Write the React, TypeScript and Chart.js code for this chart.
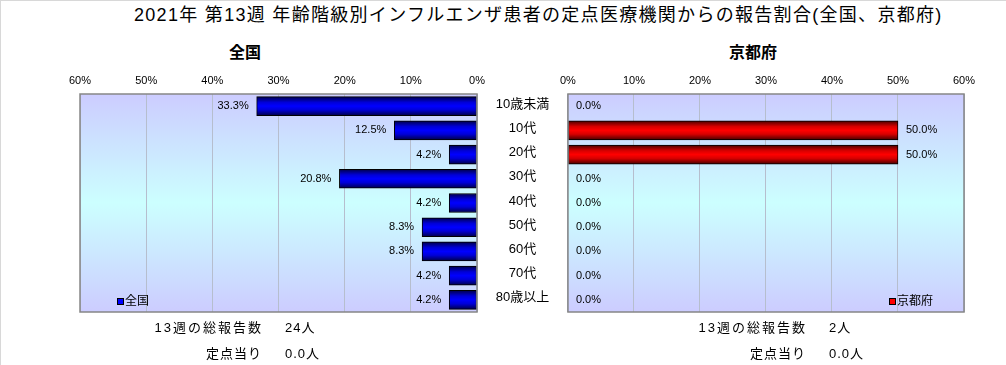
import React, { useEffect, useRef } from 'react';
import { Chart, registerables } from 'chart.js';

Chart.register(...registerables);

const categories = ['10歳未満', '10代', '20代', '30代', '40代', '50代', '60代', '70代', '80歳以上'];
const nationalValues = [33.3, 12.5, 4.2, 20.8, 4.2, 8.3, 8.3, 4.2, 4.2];
const kyotoValues = [0, 50, 50, 0, 0, 0, 0, 0, 0];
const axisMin = 0;
const axisMax = 60;
const axisStep = 10;
const titleText = '2021年 第13週 年齢階級別インフルエンザ患者の定点医療機関からの報告割合(全国、京都府)';
const panelTitles = ['全国', '京都府'];
const seriesNames = ['全国', '京都府'];
const weekLabel = '13週の総報告数';
const perSiteLabel = '定点当り';
const nationalTotals = ['24人', '0.0人'];
const kyotoTotals = ['2人', '0.0人'];

const FONT = "'Liberation Sans', 'Noto Sans CJK JP', sans-serif";
const BAR_T = 19;

type Side = 'left' | 'right';

function makeGradient(chart: any, dataIndex: number, edge: string, mid: string, center: string) {
  const ys = chart.scales && chart.scales.y;
  if (!ys) return center;
  const yc = ys.getPixelForValue(dataIndex);
  if (!Number.isFinite(yc)) return center;
  const g = chart.ctx.createLinearGradient(0, yc - BAR_T / 2, 0, yc + BAR_T / 2);
  g.addColorStop(0, edge);
  g.addColorStop(0.3, mid);
  g.addColorStop(0.5, center);
  g.addColorStop(0.7, mid);
  g.addColorStop(1, edge);
  return g;
}

function PanelChart({ side }: { side: Side }) {
  const ref = useRef<HTMLCanvasElement | null>(null);
  const isLeft = side === 'left';
  const width = isLeft ? 567 : 453;
  const height = 260;

  useEffect(() => {
    const canvas = ref.current;
    if (!canvas) return;
    const values = isLeft ? nationalValues : kyotoValues;
    const colors = isLeft
      ? { edge: '#000048', mid: '#0000d8', center: '#0000ff', legend: '#0000ff' }
      : { edge: '#480000', mid: '#d80000', center: '#ff0000', legend: '#ff0000' };

    const bgPlugin = {
      id: 'bgPlugin',
      beforeDraw(chart: any) {
        const { ctx, chartArea: a } = chart;
        if (!a || !Number.isFinite(a.top) || !Number.isFinite(a.bottom)) return;
        const g = ctx.createLinearGradient(0, a.top, 0, a.bottom);
        g.addColorStop(0, '#ccccff');
        g.addColorStop(0.5, '#ccffff');
        g.addColorStop(1, '#ccccff');
        ctx.save();
        ctx.fillStyle = g;
        ctx.fillRect(a.left, a.top, a.right - a.left, a.bottom - a.top);
        ctx.restore();
      },
      afterDatasetsDraw(chart: any) {
        const { ctx, chartArea: a } = chart;
        ctx.save();
        ctx.strokeStyle = '#868686';
        ctx.lineWidth = 1.5;
        ctx.strokeRect(a.left, a.top, a.right - a.left, a.bottom - a.top);
        const meta = chart.getDatasetMeta(0);
        ctx.font = `11px ${FONT}`;
        ctx.fillStyle = '#000';
        ctx.textBaseline = 'middle';
        meta.data.forEach((el: any, i: number) => {
          const v = values[i];
          const txt = `${v.toFixed(1)}%`;
          if (isLeft) {
            ctx.textAlign = 'right';
            ctx.fillText(txt, el.x - 8, el.y);
          } else {
            ctx.textAlign = 'left';
            ctx.fillText(txt, el.x + 8, el.y);
          }
        });
        const lx = isLeft ? a.left + 37 : a.right - 75;
        const ly = a.bottom - 14;
        ctx.fillStyle = colors.legend;
        ctx.fillRect(lx, ly, 6, 6);
        ctx.strokeStyle = '#000';
        ctx.lineWidth = 1;
        ctx.strokeRect(lx + 0.5, ly + 0.5, 6, 6);
        ctx.fillStyle = '#000';
        ctx.textAlign = 'left';
        ctx.font = `12px ${FONT}`;
        ctx.fillText(isLeft ? seriesNames[0] : seriesNames[1], lx + 8, ly + 3.5);
        if (isLeft) {
          const ys = chart.scales.y;
          ctx.font = `13px ${FONT}`;
          ctx.textAlign = 'center';
          categories.forEach((c, i) => {
            ctx.fillText(c, a.right + 45.5, ys.getPixelForValue(i) - 2);
          });
        }
        ctx.restore();
      },
    };

    const chart = new Chart(canvas, {
      type: 'bar',
      data: {
        labels: categories,
        datasets: [
          {
            label: isLeft ? seriesNames[0] : seriesNames[1],
            data: values,
            backgroundColor: (c: any) =>
              c.type === 'data'
                ? makeGradient(c.chart, c.dataIndex, colors.edge, colors.mid, colors.center)
                : colors.center,
            borderColor: '#000',
            borderWidth: 1,
            borderSkipped: false,
            barThickness: BAR_T,
          },
        ],
      },
      options: {
        indexAxis: 'y',
        animation: false,
        responsive: false,
        maintainAspectRatio: false,
        devicePixelRatio: 1,
        layout: {
          padding: isLeft
            ? { left: 79, right: 0, top: 0, bottom: 9 }
            : { left: 13, right: 43, top: 0, bottom: 9 },
        },
        plugins: {
          legend: { display: false },
          tooltip: { enabled: false },
          title: { display: false },
        },
        scales: {
          x: {
            type: 'linear',
            position: 'top',
            reverse: isLeft,
            min: axisMin,
            max: axisMax,
            ticks: {
              stepSize: axisStep,
              callback: (v: any) => `${v}%`,
              font: { family: FONT, size: 11 },
              color: '#000',
              padding: 6,
              maxRotation: 0,
            },
            grid: { color: '#b6bece', lineWidth: 1, drawTicks: false },
            border: { display: false },
            afterFit: (s: any) => {
              s.height = 33;
            },
          },
          y: isLeft
            ? {
                type: 'category',
                position: 'right',
                ticks: { display: false },
                grid: { display: false },
                border: { display: false },
                afterFit: (s: any) => {
                  s.width = 91;
                },
              }
            : {
                type: 'category',
                display: false,
              },
        },
      } as any,
      plugins: [bgPlugin],
    });
    return () => chart.destroy();
  }, [side]);

  return (
    <canvas
      ref={ref}
      width={width}
      height={height}
      style={{
        position: 'absolute',
        left: isLeft ? 0 : 553,
        top: 60,
        width,
        height,
      }}
    />
  );
}

const textBase: React.CSSProperties = {
  position: 'absolute',
  fontFamily: FONT,
  color: '#000',
  whiteSpace: 'nowrap',
  lineHeight: 1,
};

export default function App() {
  useEffect(() => {
    document.body.style.margin = '0';
  }, []);
  const labelStyle: React.CSSProperties = { ...textBase, textAlign: 'right', fontSize: 13 };
  return (
    <div
      style={{
        position: 'fixed',
        left: 0,
        top: 0,
        width: 1006,
        height: 365,
        background: '#fff',
        boxSizing: 'border-box',
        borderTop: '1px solid #d8d8d8',
        borderLeft: '1px solid #d8d8d8',
        overflow: 'hidden',
      }}
    >
      <div style={{ ...textBase, left: 133, top: 5, fontSize: 18, letterSpacing: '1.3px' }}>{titleText}</div>
      <div style={{ ...textBase, left: 194, width: 100, textAlign: 'center', top: 44, fontSize: 16, fontWeight: 'bold' }}>
        {panelTitles[0]}
      </div>
      <div style={{ ...textBase, left: 702, width: 100, textAlign: 'center', top: 44, fontSize: 16, fontWeight: 'bold' }}>
        {panelTitles[1]}
      </div>
      <PanelChart side="left" />
      <PanelChart side="right" />
      <div style={{ ...labelStyle, left: 0, width: 262, top: 320, letterSpacing: '2px' }}>{weekLabel}</div>
      <div style={{ ...textBase, left: 284, top: 320, fontSize: 13, letterSpacing: '1px' }}>{nationalTotals[0]}</div>
      <div style={{ ...labelStyle, left: 0, width: 261, top: 346, letterSpacing: '1px' }}>{perSiteLabel}</div>
      <div style={{ ...textBase, left: 284, top: 346, fontSize: 13, letterSpacing: '1px' }}>{nationalTotals[1]}</div>
      <div style={{ ...labelStyle, left: 500, width: 306, top: 320, letterSpacing: '2px' }}>{weekLabel}</div>
      <div style={{ ...textBase, left: 828, top: 320, fontSize: 13, letterSpacing: '1px' }}>{kyotoTotals[0]}</div>
      <div style={{ ...labelStyle, left: 500, width: 305, top: 346, letterSpacing: '1px' }}>{perSiteLabel}</div>
      <div style={{ ...textBase, left: 828, top: 346, fontSize: 13, letterSpacing: '1px' }}>{kyotoTotals[1]}</div>
    </div>
  );
}
